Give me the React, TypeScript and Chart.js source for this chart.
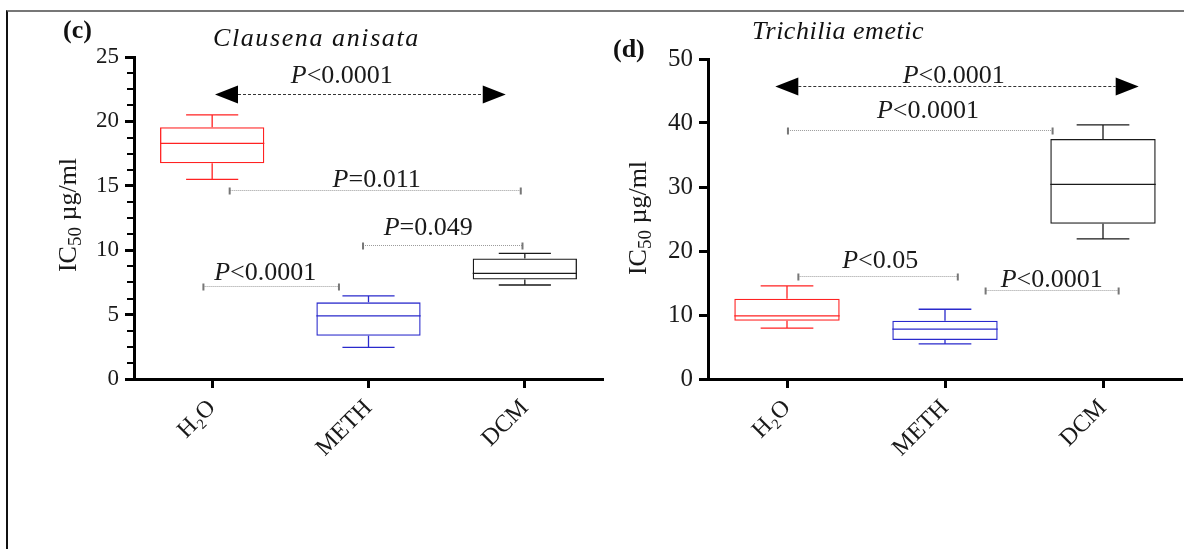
import React, { useEffect, useRef } from 'react';
import { Chart, registerables } from 'chart.js';

Chart.register(...registerables);

const FONT = '"Liberation Serif", "Times New Roman", serif';

const categories = ['H₂O', 'METH', 'DCM'];

// (c) Clausena anisata — box plot values (IC50 µg/ml)
const cWhiskerLow = [15.5, 2.45, 7.3];
const cQ1 = [16.75, 3.35, 7.72];
const cMedian = [18.3, 4.9, 8.2];
const cQ3 = [19.55, 5.95, 9.35];
const cWhiskerHigh = [20.5, 6.45, 9.75];
const cMajorTicks = [0, 5, 10, 15, 20, 25];
const cMinorTicks = [1.25, 2.5, 3.75, 6.25, 7.5, 8.75, 11.25, 12.5, 13.75, 16.25, 17.5, 18.75, 21.25, 22.5, 23.75];

// (d) Trichilia emetic — box plot values (IC50 µg/ml)
const dWhiskerLow = [7.95, 5.5, 21.9];
const dQ1 = [9.1, 6.1, 24.25];
const dMedian = [9.85, 7.8, 30.4];
const dQ3 = [12.55, 9.1, 37.5];
const dWhiskerHigh = [14.55, 10.9, 39.7];
const dMajorTicks = [0, 10, 20, 30, 40, 50];

// comparisons: [kind, fromCat, toCat, value, label, labelCat, labelValue]
const cComparisons: [string, number, number, number, string, number, number][] = [
  ['arrow', 0.018, 1.878, 22.1, 'P<0.0001', 0.829, 23.0],
  ['bracket', 0.112, 1.974, 14.64, 'P=0.011', 1.052, 14.92],
  ['bracket', 0.965, 1.985, 10.38, 'P=0.049', 1.382, 11.21],
  ['bracket', -0.056, 0.811, 7.25, 'P<0.0001', 0.339, 7.66],
];
const dComparisons: [string, number, number, number, string, number, number][] = [
  ['arrow', -0.074, 2.226, 45.8, 'P<0.0001', 1.055, 46.3],
  ['bracket', 0.006, 1.681, 38.95, 'P<0.0001', 0.892, 40.83],
  ['bracket', 0.072, 1.081, 16.03, 'P<0.05', 0.59, 17.34],
  ['bracket', 1.257, 2.099, 13.87, 'P<0.0001', 1.675, 14.31],
];

const boxColors = ['#ff2222', '#2a2acc', '#1a1a1a'];

function drawPText(ctx: CanvasRenderingContext2D, text: string, cx: number, baseline: number, size: number) {
  const first = text[0];
  const rest = text.slice(1);
  ctx.font = `italic ${size}px ${FONT}`;
  const w1 = ctx.measureText(first).width;
  ctx.font = `${size}px ${FONT}`;
  const w2 = ctx.measureText(rest).width;
  const x = cx - (w1 + w2) / 2;
  ctx.textAlign = 'left';
  ctx.textBaseline = 'alphabetic';
  ctx.fillStyle = '#1a1a1a';
  ctx.font = `italic ${size}px ${FONT}`;
  ctx.fillText(first, x, baseline);
  ctx.font = `${size}px ${FONT}`;
  ctx.fillText(rest, x + w1, baseline);
}

const decorPlugin = {
  id: 'decor',
  afterDatasetsDraw(chart: any) {
    const o = chart.options.plugins.decor;
    const ctx: CanvasRenderingContext2D = chart.ctx;
    const xs = chart.scales.x;
    const ys = chart.scales.y;
    const meta = chart.getDatasetMeta(0);
    ctx.save();
    ctx.lineWidth = 1.3;
    o.median.forEach((m: number, i: number) => {
      const bar = meta.data[i];
      const cx = xs.getPixelForValue(i);
      const bw = bar.width;
      const capW = bw / 2;
      ctx.strokeStyle = boxColors[i];
      const yMed = ys.getPixelForValue(m);
      const yQ1 = ys.getPixelForValue(o.q1[i]);
      const yQ3 = ys.getPixelForValue(o.q3[i]);
      const yLo = ys.getPixelForValue(o.low[i]);
      const yHi = ys.getPixelForValue(o.high[i]);
      ctx.beginPath();
      ctx.moveTo(cx - bw / 2, yMed);
      ctx.lineTo(cx + bw / 2, yMed);
      ctx.moveTo(cx, yQ3);
      ctx.lineTo(cx, yHi);
      ctx.moveTo(cx - capW / 2, yHi);
      ctx.lineTo(cx + capW / 2, yHi);
      ctx.moveTo(cx, yQ1);
      ctx.lineTo(cx, yLo);
      ctx.moveTo(cx - capW / 2, yLo);
      ctx.lineTo(cx + capW / 2, yLo);
      ctx.stroke();
    });
    ctx.restore();
  },
  afterDraw(chart: any) {
    const o = chart.options.plugins.decor;
    const ctx: CanvasRenderingContext2D = chart.ctx;
    const xs = chart.scales.x;
    const ys = chart.scales.y;
    const area = chart.chartArea;
    ctx.save();
    // minor ticks
    ctx.strokeStyle = '#000';
    ctx.lineWidth = 2;
    (o.minor || []).forEach((v: number) => {
      const y = Math.round(ys.getPixelForValue(v));
      ctx.beginPath();
      ctx.moveTo(area.left - 7, y);
      ctx.lineTo(area.left, y);
      ctx.stroke();
    });
    // comparisons
    o.comparisons.forEach((c: any) => {
      const [kind, a, b, v, label, lx, lv] = c;
      const x1 = xs.getPixelForValue(a);
      const x2 = xs.getPixelForValue(b);
      const y = Math.round(ys.getPixelForValue(v)) + 0.5;
      if (kind === 'arrow') {
        const tw = 23;
        const th = 9;
        ctx.fillStyle = '#000';
        ctx.beginPath();
        ctx.moveTo(x1, y);
        ctx.lineTo(x1 + tw, y - th);
        ctx.lineTo(x1 + tw, y + th);
        ctx.closePath();
        ctx.fill();
        ctx.beginPath();
        ctx.moveTo(x2, y);
        ctx.lineTo(x2 - tw, y - th);
        ctx.lineTo(x2 - tw, y + th);
        ctx.closePath();
        ctx.fill();
        ctx.strokeStyle = '#333';
        ctx.lineWidth = 1.2;
        ctx.setLineDash([3, 2]);
        ctx.beginPath();
        ctx.moveTo(x1 + tw, y);
        ctx.lineTo(x2 - tw, y);
        ctx.stroke();
        ctx.setLineDash([]);
      } else {
        ctx.strokeStyle = '#9a9a9a';
        ctx.lineWidth = 1;
        ctx.setLineDash([1, 1]);
        ctx.beginPath();
        ctx.moveTo(x1, y);
        ctx.lineTo(x2, y);
        ctx.stroke();
        ctx.setLineDash([]);
        ctx.strokeStyle = '#777';
        ctx.lineWidth = 2;
        ctx.beginPath();
        ctx.moveTo(x1, y - 3);
        ctx.lineTo(x1, y + 4);
        ctx.moveTo(x2, y - 3);
        ctx.lineTo(x2, y + 4);
        ctx.stroke();
      }
      drawPText(ctx, label, xs.getPixelForValue(lx), ys.getPixelForValue(lv), o.pSize);
    });
    // panel letter
    ctx.fillStyle = '#111';
    ctx.textAlign = 'left';
    ctx.textBaseline = 'alphabetic';
    ctx.font = `bold 26px ${FONT}`;
    ctx.fillText(o.letter, o.letterX, o.letterY);
    // title
    ctx.font = `italic 26px ${FONT}`;
    (ctx as any).letterSpacing = o.titleSpacing + 'px';
    ctx.fillText(o.title, o.titleX, o.titleY);
    (ctx as any).letterSpacing = '0px';
    // y axis title: IC50 µg/ml
    ctx.translate(o.yTitleX, o.yTitleY);
    ctx.rotate(-Math.PI / 2);
    const fs = 26;
    ctx.font = `${fs}px ${FONT}`;
    const wIC = ctx.measureText('IC').width;
    const wRest = ctx.measureText(' µg/ml').width;
    ctx.font = `${Math.round(fs * 0.72)}px ${FONT}`;
    const wSub = ctx.measureText('50').width;
    const total = wIC + wSub + wRest;
    let x = -total / 2;
    const base = 9;
    ctx.fillStyle = '#1a1a1a';
    ctx.font = `${fs}px ${FONT}`;
    ctx.fillText('IC', x, base);
    x += wIC;
    ctx.font = `${Math.round(fs * 0.72)}px ${FONT}`;
    ctx.fillText('50', x, base + 5);
    x += wSub;
    ctx.font = `${fs}px ${FONT}`;
    ctx.fillText(' µg/ml', x, base);
    ctx.restore();
  },
};

type Spec = {
  width: number;
  height: number;
  low: number[];
  q1: number[];
  median: number[];
  q3: number[];
  high: number[];
  majorTicks: number[];
  minor: number[];
  comparisons: any[];
  area: { left: number; right: number; top: number; bottom: number };
  tickSize: number;
  xTickSize: number;
  pSize: number;
  letter: string;
  letterX: number;
  letterY: number;
  title: string;
  titleX: number;
  titleY: number;
  titleSpacing: number;
  yTitleX: number;
  yTitleY: number;
};

const Y_W = 100;
const X_H = 80;

function buildConfig(s: Spec): any {
  const yMin = s.majorTicks[0];
  const yMax = s.majorTicks[s.majorTicks.length - 1];
  const step = s.majorTicks[1] - s.majorTicks[0];
  return {
    type: 'bar',
    data: {
      labels: categories,
      datasets: [
        {
          data: s.q1.map((q, i) => [q, s.q3[i]]),
          backgroundColor: 'rgba(255,255,255,0)',
          borderColor: boxColors,
          borderWidth: 1.3,
          borderSkipped: false,
          barPercentage: 0.667,
          categoryPercentage: 1,
        },
      ],
    },
    options: {
      responsive: false,
      animation: false,
      events: [],
      layout: {
        padding: {
          left: s.area.left - Y_W,
          right: s.width - s.area.right,
          top: s.area.top,
          bottom: s.height - s.area.bottom - X_H,
        },
      },
      plugins: {
        legend: { display: false },
        tooltip: { enabled: false },
        decor: {
          low: s.low,
          q1: s.q1,
          median: s.median,
          q3: s.q3,
          high: s.high,
          minor: s.minor,
          comparisons: s.comparisons,
          pSize: s.pSize,
          letter: s.letter,
          letterX: s.letterX,
          letterY: s.letterY,
          title: s.title,
          titleX: s.titleX,
          titleY: s.titleY,
          titleSpacing: s.titleSpacing,
          yTitleX: s.yTitleX,
          yTitleY: s.yTitleY,
        },
      },
      scales: {
        x: {
          offset: true,
          grid: {
            offset: false,
            drawOnChartArea: false,
            drawTicks: true,
            tickLength: 9,
            tickWidth: 3,
            tickColor: '#000',
          },
          border: { display: true, width: 3, color: '#000' },
          ticks: {
            font: { family: FONT, size: s.xTickSize },
            color: '#1a1a1a',
            minRotation: 45,
            maxRotation: 45,
            padding: 6,
          },
          afterFit: (sc: any) => {
            sc.height = X_H;
          },
        },
        y: {
          min: yMin,
          max: yMax,
          grid: {
            drawOnChartArea: false,
            drawTicks: true,
            tickLength: 9,
            tickWidth: 3,
            tickColor: '#000',
          },
          border: { display: true, width: 3, color: '#000' },
          ticks: {
            stepSize: step,
            font: { family: FONT, size: s.tickSize },
            color: '#1a1a1a',
            padding: 6,
          },
          afterFit: (sc: any) => {
            sc.width = Y_W;
          },
        },
      },
    },
    plugins: [decorPlugin],
  };
}

function BoxChart({ spec, left }: { spec: Spec; left: number }) {
  const ref = useRef<HTMLCanvasElement>(null);
  useEffect(() => {
    if (!ref.current) return;
    const chart = new Chart(ref.current, buildConfig(spec));
    return () => chart.destroy();
  }, [spec]);
  return (
    <canvas
      ref={ref}
      width={spec.width}
      height={spec.height}
      style={{ position: 'absolute', left, top: 0, width: spec.width, height: spec.height, display: 'block' }}
    />
  );
}

const specC: Spec = {
  width: 610,
  height: 549,
  low: cWhiskerLow,
  q1: cQ1,
  median: cMedian,
  q3: cQ3,
  high: cWhiskerHigh,
  majorTicks: cMajorTicks,
  minor: cMinorTicks,
  comparisons: cComparisons,
  area: { left: 134, right: 603, top: 57, bottom: 379 },
  tickSize: 23,
  xTickSize: 24,
  pSize: 26,
  letter: '(c)',
  letterX: 63,
  letterY: 38,
  title: 'Clausena anisata',
  titleX: 213,
  titleY: 46,
  titleSpacing: 1.6,
  yTitleX: 67,
  yTitleY: 215,
};

const specD: Spec = {
  width: 584,
  height: 549,
  low: dWhiskerLow,
  q1: dQ1,
  median: dMedian,
  q3: dQ3,
  high: dWhiskerHigh,
  majorTicks: dMajorTicks,
  minor: [],
  comparisons: dComparisons,
  area: { left: 108, right: 582, top: 59, bottom: 379 },
  tickSize: 25,
  xTickSize: 24,
  pSize: 26,
  letter: '(d)',
  letterX: 13,
  letterY: 57,
  title: 'Trichilia emetic',
  titleX: 152,
  titleY: 39,
  titleSpacing: 0.5,
  yTitleX: 37,
  yTitleY: 218,
};

export default function App() {
  return (
    <div style={{ position: 'absolute', left: 0, top: 0, width: 1184, height: 549, background: '#fff', overflow: 'hidden' }}>
      <div
        style={{
          position: 'absolute',
          left: 6,
          top: 10,
          width: 1184,
          height: 560,
          borderTop: '2px solid #777',
          borderLeft: '2px solid #111',
        }}
      />
      <BoxChart spec={specC} left={0} />
      <BoxChart spec={specD} left={600} />
    </div>
  );
}
